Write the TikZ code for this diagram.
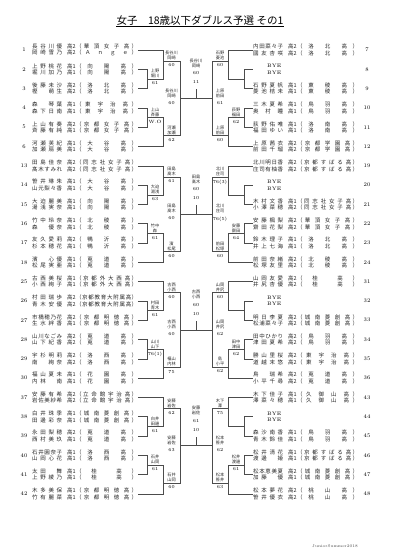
\documentclass[tikz,border=0pt]{standalone}
\usepackage{fontspec}
\newfontfamily\jp{Noto Sans CJK JP}
\usetikzlibrary{calc}

\let\sprend\relax
\def\sprB#1{#1\sprC}
\def\sprC#1{\ifx#1\sprend\else\hfil#1\expandafter\sprC\fi}
\newcommand\pname[1]{\makebox[30pt][s]{\sprB#1\sprend}}
\newcommand\schl[1]{\makebox[50pt][s]{\hskip0pt plus .5fil\sprB#1\sprend\hskip0pt plus .5fil}}
\newcommand\pline[3]{\pname{#1}\hspace{5pt}\makebox[9pt][l]{#2}（\schl{#3}）}
\newcommand\duo[6]{\pline{#1}{#2}{#3}\\\pline{#4}{#5}{#6}}

% one half block of six entries: tag, anchor, side, entries
\newcommand\brk[9]{%
  \draw[wire] (#5.#2) -- (c#31 |- #5.#2) -- (c#31 |- #6.#2) -- (#6.#2);
  \coordinate (#1a) at ($(c#31 |- #5.#2)!.5!(c#31 |- #6.#2)$);
  \draw[wire] (#7.#2) -- (c#31 |- #7.#2) -- (c#31 |- #8.#2) -- (#8.#2);
  \coordinate (#1b) at ($(c#31 |- #7.#2)!.5!(c#31 |- #8.#2)$);
  \coordinate (#1c) at ($(c#32 |- #4.#2)!.38!(c#32 |- #1a)$);
  \draw[wire] (#4.#2) -- (c#32 |- #4.#2) -- (c#32 |- #1a) -- (#1a);
  \coordinate (#1d) at ($(c#32 |- #9.#2)!.38!(c#32 |- #1b)$);
  \draw[wire] (#1b) -- (c#32 |- #1b) -- (c#32 |- #9.#2) -- (#9.#2);
  \draw[wire] (#1c) -- (c#33 |- #1c) -- (c#33 |- #1d) -- (#1d);
  \coordinate (#1e) at ($(c#33 |- #1c)!.5!(c#33 |- #1d)$);
}
\newcommand\lab[5]{%
  \node[wn] (#1) at ([xshift=#3]#2) {#4};
  \node[ws] (#1s) at ([xshift=#3]#2) {#5};
}
\newcommand\final[4]{%
  \coordinate (#1m) at (cC |- #1Le);
  \draw[wire] (#1Le) -- (#1Re);
  \draw[wire] (#1m) -- ([yshift=9pt]#1m);
  \node[wn, anchor=center] (#1w) at ([yshift=35pt]#1m) {#2};
  \node[ws, anchor=center, inner sep=0.5pt] (#1x) at ([yshift=25pt]#1m) {#3};
  \node[ws, anchor=center, inner sep=0.5pt] (#1y) at ([yshift=16pt]#1m) {#4};
}

\tikzset{
  wire/.style={draw=black!70, line width=0.5pt},
  pl/.style={anchor=west, inner sep=0.5pt, align=left, text=black!85, font=\jp\fontsize{5.5}{6.5}\selectfont},
  bye/.style={anchor=west, inner sep=0.5pt, align=left, font=\fontsize{5}{6.5}\selectfont},
  num/.style={inner sep=0.5pt, font=\fontsize{5.5}{6}\selectfont},
  wn/.style={anchor=south, inner sep=0.6pt, align=center, text=black!85, font=\jp\fontsize{4.2}{5}\selectfont},
  ws/.style={anchor=north, inner sep=2.6pt, font=\fontsize{4.6}{5}\selectfont},
}

\begin{document}
\begin{tikzpicture}[x=1pt,y=-1pt]
\useasboundingbox (0,0) rectangle (400,550);

\node[font=\jp\fontsize{10.5}{12}\selectfont, inner sep=0pt] (title) at (200,20.5) {女子　18歳以下ダブルス予選 その1};
\draw[line width=0.6pt] ([yshift=-0.8pt]title.south west) -- ([yshift=-0.8pt]title.south east);

\coordinate (cL1) at (147,0);
\coordinate (cL2) at (163,0);
\coordinate (cL3) at (180,0);
\coordinate (cC) at (196,0);
\coordinate (cR3) at (212,0);
\coordinate (cR2) at (228,0);
\coordinate (cR1) at (244,0);

% left entries
\node[num] (n1) at (24,50) {1};
\node[pl] (e1) at (31.5,50) {\duo{長谷川優}{高2}{華頂女子高}{岡崎雪乃}{高2}{Ａｎｇｅ}};
\node[num] (n2) at (24,69.3) {2};
\node[pl] (e2) at (31.5,69.3) {\duo{上野桃花}{高1}{向陽高}{堀川加乃}{高1}{向陽高}};
\node[num] (n3) at (24,88.6) {3};
\node[pl] (e3) at (31.5,88.6) {\duo{後藤未沙}{高2}{洛北高}{樫　萌生}{高2}{洛北高}};
\node[num] (n4) at (24,107.9) {4};
\node[pl] (e4) at (31.5,107.9) {\duo{森　琴葉}{高1}{東宇治高}{森下日南}{高1}{東宇治高}};
\node[num] (n5) at (24,127.2) {5};
\node[pl] (e5) at (31.5,127.2) {\duo{上山有奏}{高2}{京都女子高}{斉藤有純}{高1}{京都女子高}};
\node[num] (n6) at (24,146.5) {6};
\node[pl] (e6) at (31.5,146.5) {\duo{河瀬芙紀}{高1}{大谷高}{加瀬扇美}{高1}{大谷高}};
\node[num] (n13) at (24,165.8) {13};
\node[pl] (e13) at (31.5,165.8) {\duo{田島佳奈}{高2}{同志社女子高}{髙木すみれ}{高2}{同志社女子高}};
\node[num] (n14) at (24,185.1) {14};
\node[pl] (e14) at (31.5,185.1) {\duo{笹井琳朱}{高1}{大谷高}{山元梨々香}{高1}{大谷高}};
\node[num] (n15) at (24,204.4) {15};
\node[pl] (e15) at (31.5,204.4) {\duo{大迫麗美}{高1}{向陽高}{湯浅実奈}{高1}{向陽高}};
\node[num] (n16) at (24,223.7) {16};
\node[pl] (e16) at (31.5,223.7) {\duo{竹中玲奈}{高1}{北稜高}{森　優奈}{高1}{北稜高}};
\node[num] (n17) at (24,243) {17};
\node[pl] (e17) at (31.5,243) {\duo{友久愛莉}{高2}{鴨沂高}{杉本穂花}{高1}{鴨沂高}};
\node[num] (n18) at (24,262.3) {18};
\node[pl] (e18) at (31.5,262.3) {\duo{濱　心優}{高1}{莵道高}{松尾実亜}{高1}{莵道高}};
\node[num] (n25) at (24,281.6) {25};
\node[pl] (e25) at (31.5,281.6) {\duo{古西美桜}{高1}{京都外大西高}{小西絢子}{高1}{京都外大西高}};
\node[num] (n26) at (24,300.9) {26};
\node[pl] (e26) at (31.5,300.9) {\duo{村田瑞歩}{高2}{京都教育大附属高}{青木安優}{高2}{京都教育大附属高}};
\node[num] (n27) at (24,320.2) {27};
\node[pl] (e27) at (31.5,320.2) {\duo{市橋穂乃花}{高2}{京都明徳高}{生水絆香}{高1}{京都明徳高}};
\node[num] (n28) at (24,339.5) {28};
\node[pl] (e28) at (31.5,339.5) {\duo{山川なごみ}{高2}{莵道高}{山下紀香}{高2}{莵道高}};
\node[num] (n29) at (24,358.8) {29};
\node[pl] (e29) at (31.5,358.8) {\duo{宇杉明莉}{高2}{洛西高}{南　絢奈}{高2}{洛西高}};
\node[num] (n30) at (24,378.1) {30};
\node[pl] (e30) at (31.5,378.1) {\duo{福山夏未}{高1}{花園高}{内林　南}{高1}{花園高}};
\node[num] (n37) at (24,397.4) {37};
\node[pl] (e37) at (31.5,397.4) {\duo{安藤有希}{高2}{立命館宇治高}{岩佐美紗希}{高2}{立命館宇治高}};
\node[num] (n38) at (24,416.7) {38};
\node[pl] (e38) at (31.5,416.7) {\duo{白井珠季}{高1}{城南菱創高}{田邊彩奈}{高1}{城南菱創高}};
\node[num] (n39) at (24,436) {39};
\node[pl] (e39) at (31.5,436) {\duo{永田梨穂}{高2}{莵道高}{西村美玖}{高1}{莵道高}};
\node[num] (n40) at (24,455.3) {40};
\node[pl] (e40) at (31.5,455.3) {\duo{石井園奈子}{高1}{洛西高}{山岡心花}{高1}{洛西高}};
\node[num] (n41) at (24,474.6) {41};
\node[pl] (e41) at (31.5,474.6) {\duo{太田　舞}{高1}{桂高}{上野綾乃}{高1}{桂高}};
\node[num] (n42) at (24,493.9) {42};
\node[pl] (e42) at (31.5,493.9) {\duo{木多美保}{高1}{京都明徳高}{竹有麗菜}{高1}{京都明徳高}};

% right entries
\node[pl] (e7) at (252.5,50) {\duo{内田菜々子}{高2}{洛北高}{國友杏咲}{高2}{洛北高}};
\node[num] (n7) at (367,50) {7};
\node[bye] (e8) at (252.5,69.3) {\hspace*{14pt}BYE\\\hspace*{14pt}BYE};
\node[num] (n8) at (367,69.3) {8};
\node[pl] (e9) at (252.5,88.6) {\duo{石野夏帆}{高1}{東稜高}{菱池桔未}{高1}{東稜高}};
\node[num] (n9) at (367,88.6) {9};
\node[pl] (e10) at (252.5,107.9) {\duo{三木夏希}{高1}{鳥羽高}{奥村瞳}{高1}{鳥羽高}};
\node[num] (n10) at (367,107.9) {10};
\node[pl] (e11) at (252.5,127.2) {\duo{荻野佑唯}{高1}{洛南高}{福田ゆい}{高1}{洛南高}};
\node[num] (n11) at (367,127.2) {11};
\node[pl] (e12) at (252.5,146.5) {\duo{上原茜衣}{高2}{京都学園高}{前田千瑠}{高2}{京都学園高}};
\node[num] (n12) at (367,146.5) {12};
\node[pl] (e19) at (252.5,165.8) {\duo{北川明日香}{高2}{京都すばる高}{庄司有柚香}{高2}{京都すばる高}};
\node[num] (n19) at (367,165.8) {19};
\node[bye] (e20) at (252.5,185.1) {\hspace*{14pt}BYE\\\hspace*{14pt}BYE};
\node[num] (n20) at (367,185.1) {20};
\node[pl] (e21) at (252.5,204.4) {\duo{木村文香}{高1}{同志社女子高}{小澤菜穂}{高2}{同志社女子高}};
\node[num] (n21) at (367,204.4) {21};
\node[pl] (e22) at (252.5,223.7) {\duo{安藤楓梨}{高2}{華頂女子高}{齋田花梨}{高2}{華頂女子高}};
\node[num] (n22) at (367,223.7) {22};
\node[pl] (e23) at (252.5,243) {\duo{鈴木理子}{高1}{洛北高}{井上七海}{高1}{洛北高}};
\node[num] (n23) at (367,243) {23};
\node[pl] (e24) at (252.5,262.3) {\duo{前田奈緒}{高2}{北稜高}{松塚友里}{高2}{北稜高}};
\node[num] (n24) at (367,262.3) {24};
\node[pl] (e31) at (252.5,281.6) {\duo{山岡友愛}{高2}{桂高}{井尻杏優}{高2}{桂高}};
\node[num] (n31) at (367,281.6) {31};
\node[bye] (e32) at (252.5,300.9) {\hspace*{14pt}BYE\\\hspace*{14pt}BYE};
\node[num] (n32) at (367,300.9) {32};
\node[pl] (e33) at (252.5,320.2) {\duo{明日李夏}{高2}{城南菱創高}{松浦菜々子}{高2}{城南菱創高}};
\node[num] (n33) at (367,320.2) {33};
\node[pl] (e34) at (252.5,339.5) {\duo{田中ひかり}{高2}{鳥羽高}{津田夏希}{高2}{鳥羽高}};
\node[num] (n34) at (367,339.5) {34};
\node[pl] (e35) at (252.5,358.8) {\duo{勝山里桜}{高2}{東宇治高}{道越末悠}{高2}{東宇治高}};
\node[num] (n35) at (367,358.8) {35};
\node[pl] (e36) at (252.5,378.1) {\duo{鳥　瑞希}{高2}{莵道高}{小平千尋}{高2}{莵道高}};
\node[num] (n36) at (367,378.1) {36};
\node[pl] (e43) at (252.5,397.4) {\duo{木下佳子}{高1}{久御山高}{澤菜々穂}{高1}{久御山高}};
\node[num] (n43) at (367,397.4) {43};
\node[bye] (e44) at (252.5,416.7) {\hspace*{14pt}BYE\\\hspace*{14pt}BYE};
\node[num] (n44) at (367,416.7) {44};
\node[pl] (e45) at (252.5,436) {\duo{森沙南香}{高1}{鳥羽高}{青木鈴佳}{高1}{鳥羽高}};
\node[num] (n45) at (367,436) {45};
\node[pl] (e46) at (252.5,455.3) {\duo{松井清花}{高1}{京都すばる高}{渡邊　姫}{高1}{京都すばる高}};
\node[num] (n46) at (367,455.3) {46};
\node[pl] (e47) at (252.5,474.6) {\duo{松本恵美夏}{高2}{城南菱創高}{加藤　優}{高1}{城南菱創高}};
\node[num] (n47) at (367,474.6) {47};
\node[pl] (e48) at (252.5,493.9) {\duo{松本夢花}{高2}{桃山高}{笹井優衣}{高2}{桃山高}};
\node[num] (n48) at (367,493.9) {48};

% brackets
\brk{AL}{east}{L}{e1}{e2}{e3}{e4}{e5}{e6}
\brk{AR}{west}{R}{e7}{e8}{e9}{e10}{e11}{e12}
\brk{BL}{east}{L}{e13}{e14}{e15}{e16}{e17}{e18}
\brk{BR}{west}{R}{e19}{e20}{e21}{e22}{e23}{e24}
\brk{CL}{east}{L}{e25}{e26}{e27}{e28}{e29}{e30}
\brk{CR}{west}{R}{e31}{e32}{e33}{e34}{e35}{e36}
\brk{DL}{east}{L}{e37}{e38}{e39}{e40}{e41}{e42}
\brk{DR}{west}{R}{e43}{e44}{e45}{e46}{e47}{e48}

% winners
\lab{lA1}{ALa}{8pt}{上野\\堀川}{61}
\lab{lA2}{ALb}{8pt}{上山\\斉藤}{W.O}
\lab{lA3}{ALc}{8.5pt}{長谷川\\岡崎}{60}
\lab{lA4}{ALd}{8.5pt}{河瀬\\加瀬}{62}
\lab{lA5}{ALe}{-8.5pt}{長谷川\\岡崎}{60}
\lab{rA2}{ARb}{-8pt}{荻野\\福田}{62}
\lab{rA3}{ARc}{-8pt}{石野\\菱池}{60}
\lab{rA4}{ARd}{-8pt}{上原\\前田}{60}
\lab{rA5}{ARe}{8pt}{上原\\前田}{61}
\final{A}{長谷川\\岡崎}{60}{11}

\lab{lB1}{BLa}{8pt}{大迫\\湯浅}{63}
\lab{lB2}{BLb}{8pt}{竹中\\森}{61}
\lab{lB3}{BLc}{8.5pt}{田島\\髙木}{61}
\lab{lB4}{BLd}{8.5pt}{濱\\松尾}{60}
\lab{lB5}{BLe}{-8.5pt}{田島\\髙木}{60}
\lab{rB2}{BRb}{-8pt}{安藤\\齋田}{64}
\lab{rB3}{BRc}{-8pt}{北川\\庄司}{76(3)}
\lab{rB4}{BRd}{-8pt}{前田\\松塚}{60}
\lab{rB5}{BRe}{8pt}{北川\\庄司}{76(5)}
\final{B}{田島\\髙木}{60}{10}

\lab{lC1}{CLa}{8pt}{村田\\青木}{61}
\lab{lC2}{CLb}{8pt}{山川\\山下}{76(1)}
\lab{lC3}{CLc}{8.5pt}{古西\\小西}{60}
\lab{lC4}{CLd}{8.5pt}{福山\\内林}{75}
\lab{lC5}{CLe}{-8.5pt}{古西\\小西}{60}
\lab{rC2}{CRb}{-8pt}{田中\\津田}{62}
\lab{rC3}{CRc}{-8pt}{山岡\\井尻}{60}
\lab{rC4}{CRd}{-8pt}{鳥\\小平}{62}
\lab{rC5}{CRe}{8pt}{山岡\\井尻}{62}
\final{C}{古西\\小西}{60}{10}

\lab{lD1}{DLa}{8pt}{白井\\田邊}{61}
\lab{lD2}{DLb}{8pt}{石井\\山岡}{61}
\lab{lD3}{DLc}{8.5pt}{安藤\\岩佐}{62}
\lab{lD4}{DLd}{8.5pt}{石井\\山岡}{60}
\lab{lD5}{DLe}{-8.5pt}{安藤\\岩佐}{63}
\lab{rD2}{DRb}{-8pt}{松井\\渡邊}{61}
\lab{rD3}{DRc}{-8pt}{木下\\澤}{75}
\lab{rD4}{DRd}{-8pt}{松本\\笹井}{63}
\lab{rD5}{DRe}{8pt}{松本\\笹井}{62}
\final{D}{安藤\\岩佐}{61}{10}

\node[anchor=east, inner sep=0pt, text=black!70, font=\fontsize{4}{4}\selectfont] (foot) at (358,546) {JuniorSummer2018};
\end{tikzpicture}
\end{document}
